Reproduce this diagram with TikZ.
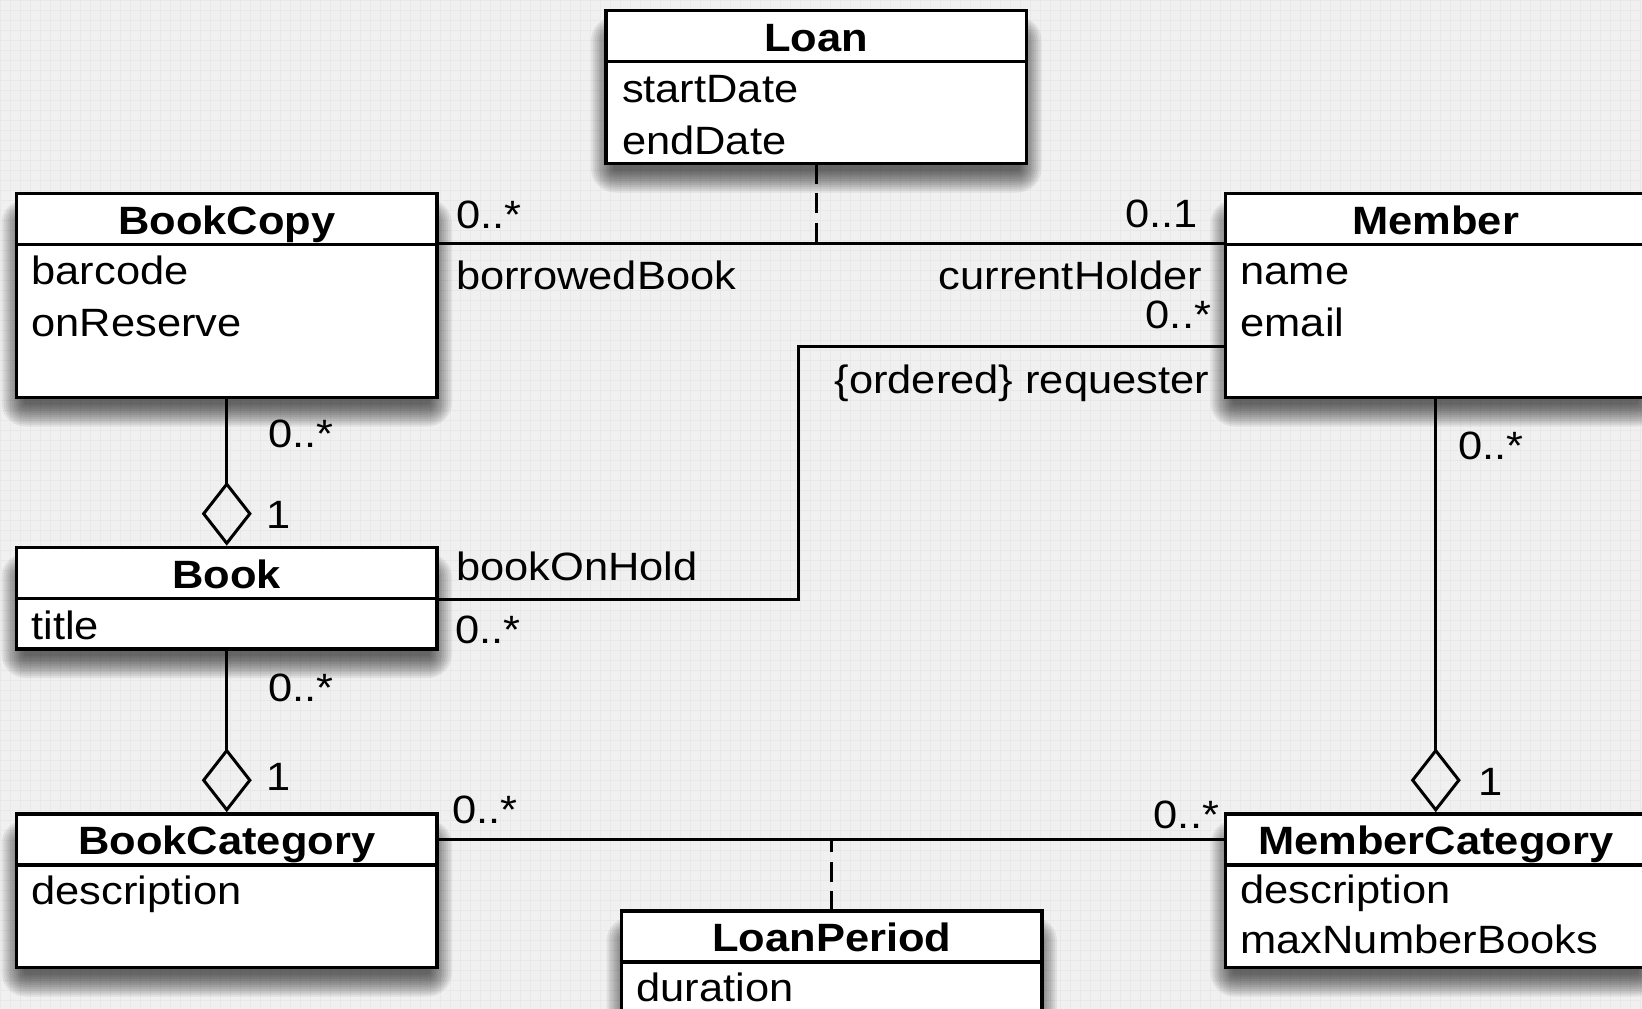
\documentclass[tikz,border=0pt]{standalone}
\usepackage{fontspec}
\setmainfont{Liberation Sans}[FakeStretch=1.1]
\usetikzlibrary{arrows.meta}

\definecolor{paper}{HTML}{EFF0EF}
\definecolor{gridline}{HTML}{E7E8E7}

\tikzset{
  classbox/.style={draw=black, line width=3.6pt, fill=white, rectangle,
    inner sep=0pt, outer sep=0pt, minimum width=420.5pt, anchor=north west,
    line join=miter},
  shadowlayer/.style={fill=black, fill opacity=0.065, draw=none},
  txt/.style={inner sep=0pt, outer sep=0pt, font=\fontsize{39.5pt}{47pt}\selectfont},
  classtitle/.style={txt, font=\fontsize{39.5pt}{47pt}\selectfont\bfseries, anchor=base},
  attr/.style={txt, anchor=base west},
  lblr/.style={txt, anchor=base east},
  link/.style={line width=3pt},
  dep/.style={line width=3pt, dash pattern=on 20pt off 9.5pt},
  agg/.style={line width=3pt, shorten >=1.8pt,
    -{Diamond[open, length=64pt, width=50pt, line width=3pt]}},
}

% soft shadow under a box: left, top, height (width is fixed)
\newcommand{\umlboxshadow}[3]{%
  \pgfmathsetmacro\shadowR{#1+420.5}%
  \pgfmathsetmacro\shadowB{#2+#3}%
  \foreach \r in {2,4,...,24} {
    \fill[shadowlayer, rounded corners=\r pt]
      (#1+9-\r, #2+30-\r) rectangle (\shadowR-9+\r, \shadowB+5+\r);
  }
}

% class box: name, left, top, height, title
\newcommand{\umlclassbox}[5]{%
  \umlboxshadow{#2}{#3}{#4}
  \node[classbox, minimum height=#4pt] (#1) at (#2,#3) {};
  \draw[line width=3.6pt] ([yshift=-51pt]#1.north west) -- ([yshift=-51pt]#1.north east);
  \node[classtitle] (#1-title) at ([yshift=-40.5pt]#1.north) {#5};
}

\begin{document}
\begin{tikzpicture}[x=1pt, y=-1pt]
  \useasboundingbox (0,0) rectangle (1642,1009);
  % paper with a faint grid
  \fill[paper] (0,0) rectangle (1642,1009);
  \foreach \gx in {0,10,...,1640} {\draw[gridline, line width=0.7pt] (\gx,0) -- (\gx,1009);}
  \foreach \gy in {0,10,...,1000} {\draw[gridline, line width=0.7pt] (0,\gy) -- (1642,\gy);}

  % classes
  \umlclassbox{loan}{606}{10.5}{153}{Loan}
  \node[attr] (loan-a1) at ([xshift=16pt, yshift=-91.5pt]loan.north west) {startDate};
  \node[attr] (loan-a2) at ([xshift=16pt, yshift=-143.5pt]loan.north west) {endDate};

  \umlclassbox{bookcopy}{16.5}{193.5}{204}{BookCopy}
  \node[attr] (bookcopy-a1) at ([xshift=15pt, yshift=-91pt]bookcopy.north west) {barcode};
  \node[attr] (bookcopy-a2) at ([xshift=15pt, yshift=-143pt]bookcopy.north west) {onReserve};

  \umlclassbox{member}{1225.5}{193.5}{204}{Member}
  \node[attr] (member-a1) at ([xshift=15pt, yshift=-91pt]member.north west) {name};
  \node[attr] (member-a2) at ([xshift=15pt, yshift=-143pt]member.north west) {email};

  \umlclassbox{book}{16.5}{547.5}{101.5}{Book}
  \node[attr] (book-a1) at ([xshift=15pt, yshift=-91.5pt]book.north west) {title};

  \umlclassbox{bookcat}{16.5}{814}{153.5}{BookCategory}
  \node[attr] (bookcat-a1) at ([xshift=15pt, yshift=-90.5pt]bookcat.north west) {description};

  \umlclassbox{membercat}{1225.5}{814}{153.5}{MemberCategory}
  \node[attr] (membercat-a1) at ([xshift=15pt, yshift=-89.5pt]membercat.north west) {description};
  \node[attr] (membercat-a2) at ([xshift=15pt, yshift=-139.5pt]membercat.north west) {maxNumberBooks};

  \umlclassbox{loanperiod}{621.5}{911}{153.5}{LoanPeriod}
  \node[attr] (loanperiod-a1) at ([xshift=15pt, yshift=-90.5pt]loanperiod.north west) {duration};

  % connection points
  \coordinate (lnA) at ([yshift=-50pt]bookcopy.north east);
  \coordinate (lnB) at ([yshift=-25.3pt]bookcat.north east);
  \coordinate (rq) at ([yshift=-153.2pt]member.north west);
  \coordinate (bh) at ([yshift=-51.5pt]book.north east);
  \coordinate (hold) at (798.5,0);

  % associations
  \draw[link] (lnA) -- (lnA -| member.west);
  \draw[dep] (loan.south) -- (loan.south |- lnA);
  \draw[link] (rq) -- (rq -| hold) -- (bh -| hold) -- (bh);
  \draw[link] (lnB) -- (lnB -| membercat.west);
  \draw[dep] (loanperiod.north) -- (loanperiod.north |- lnB);

  % aggregations
  \draw[agg] (bookcopy.south) -- (book.north);
  \draw[agg] (book.south) -- (bookcat.north);
  \draw[agg] (member.south) -- (membercat.north);

  % role names and multiplicities
  \node[attr] (m1) at (456,228.3) {0..*};
  \node[attr] (r1) at (456,289.3) {borrowedBook};
  \node[lblr] (m2) at (1198,227.7) {0..1};
  \node[lblr] (r2) at (1202,289.3) {currentHolder};
  \node[lblr] (m3) at (1211,328.3) {0..*};
  \node[lblr] (r3) at (1209,393.3) {\{ordered\} requester};
  \node[attr] (r4) at (456,580.8) {bookOnHold};
  \node[attr] (m4) at (455,643) {0..*};
  \node[attr] (m5) at (268,447.4) {0..*};
  \node[attr] (m6) at (266,528.3) {1};
  \node[attr] (m7) at (268,701.3) {0..*};
  \node[attr] (m8) at (266,790.7) {1};
  \node[attr] (m9) at (452,823.8) {0..*};
  \node[lblr] (m10) at (1219,828.3) {0..*};
  \node[attr] (m11) at (1458.5,459) {0..*};
  \node[attr] (m12) at (1478,795.3) {1};
\end{tikzpicture}
\end{document}
